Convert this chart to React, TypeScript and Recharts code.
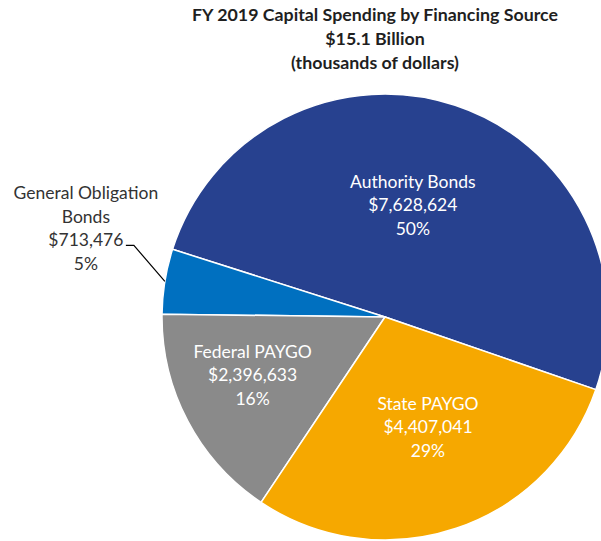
import React from 'react';
import { PieChart, Pie, Cell } from 'recharts';

const categories = ['Authority Bonds', 'General Obligation Bonds', 'Federal PAYGO', 'State PAYGO'];
const values = [7628624, 713476, 2396633, 4407041];
const titleLines = ['FY 2019 Capital Spending by Financing Source', '$15.1 Billion', '(thousands of dollars)'];

const COLORS = ['#27418F', '#0070C0', '#8A8A8A', '#F6A800'];
// label placement (style): radius fraction and angle offset from slice mid-angle
const LABEL_STYLE = [
  { k: 0.49, da: 3.6, inside: true, lines: ['Authority Bonds'] },
  { k: 0, da: 0, inside: false, lines: ['General Obligation', 'Bonds'] },
  { k: 0.66, da: -1.9, inside: true, lines: ['Federal PAYGO'] },
  { k: 0.555, da: 1.7, inside: true, lines: ['State PAYGO'] },
];

const data = categories.map((name, i) => ({ name, value: values[i] }));

const FONT = 'Lato, "Open Sans", sans-serif';
const RAD = Math.PI / 180;
const LH = 23.5;
const FS = 17.5;

function renderLabel(props: any) {
  const { cx, cy, midAngle, outerRadius, index, value, percent } = props;
  const st = LABEL_STYLE[index];
  const lines = [...st.lines, '$' + Number(value).toLocaleString('en-US'), Math.round(percent * 100) + '%'];
  if (st.inside) {
    const a = (midAngle + st.da) * RAD;
    const r = outerRadius * st.k;
    const x = cx + r * Math.cos(a);
    const y = cy - r * Math.sin(a);
    const mid = (lines.length - 1) / 2;
    return (
      <g key={'l' + index}>
        {lines.map((t, j) => (
          <text key={j} x={x} y={y + (j - mid) * LH} textAnchor="middle" fill="#FFFFFF" fontFamily={FONT} fontSize={FS}>
            {t}
          </text>
        ))}
      </g>
    );
  }
  const a = midAngle * RAD;
  const sx = cx + outerRadius * Math.cos(a);
  const sy = cy - outerRadius * Math.sin(a);
  const ex = sx - 31;
  const ey = sy - 36;
  const fx = ex - 8;
  const tx = fx - 40;
  const mid = 2.0;
  return (
    <g key={'l' + index}>
      <polyline points={`${sx},${sy} ${ex},${ey} ${fx},${ey}`} fill="none" stroke="#000000" strokeWidth={1.2} />
      {lines.map((t, j) => (
        <text key={j} x={tx} y={ey + 1 + (j - mid) * LH} textAnchor="middle" fill="#333333" fontFamily={FONT} fontSize={FS}>
          {t}
        </text>
      ))}
    </g>
  );
}

export default function App() {
  return (
    <div style={{ position: 'absolute', left: 0, top: 0, width: 601, height: 541, overflow: 'hidden', background: '#fff' }}>
      <PieChart width={601} height={541} margin={{ top: 0, right: 0, bottom: 0, left: 0 }}>
        <Pie
          data={data}
          dataKey="value"
          nameKey="name"
          cx={385}
          cy={317}
          outerRadius={223}
          startAngle={-19}
          endAngle={341}
          stroke="#FFFFFF"
          strokeWidth={1.5}
          label={renderLabel}
          labelLine={false}
          isAnimationActive={false}
        >
          {data.map((d, i) => (
            <Cell key={d.name} fill={COLORS[i]} />
          ))}
        </Pie>
      </PieChart>
      <svg width={601} height={80} style={{ position: 'absolute', left: 0, top: 0 }}>
        {titleLines.map((t, i) => (
          <text key={i} x={375} y={21 + i * 24} textAnchor="middle" fill="#1F1F1F" fontFamily={FONT} fontWeight="bold" fontSize={17.8}>
            {t}
          </text>
        ))}
      </svg>
    </div>
  );
}
